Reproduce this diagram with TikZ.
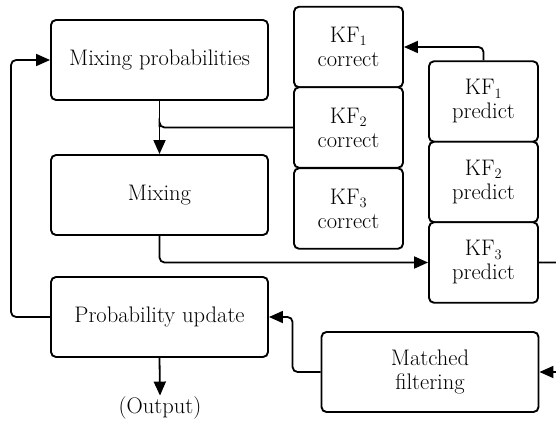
\documentclass[tikz,border=0pt]{standalone}
\usepackage{fontspec}
\usetikzlibrary{arrows.meta}
\begin{document}
\begin{tikzpicture}[x=1pt,y=-1pt,
  font=\fontsize{22.5}{24}\selectfont,
  block/.style={draw,line width=1.9pt,rounded corners=5pt,fill=white,
    inner sep=0pt,align=center,minimum width=#1,minimum height=80pt},
  block/.default=217pt,
  kfbox/.style={block=109pt,minimum height=80.5pt},
  flow/.style={line width=1.8pt,rounded corners=5pt,
    -{Triangle[length=14pt,width=12pt]}},
  wire/.style={line width=1.8pt,rounded corners=5pt}]
\useasboundingbox (0,0) rectangle (556,422);
\clip (0,0) rectangle (556,422);

% main chain
\node[block] (mp)  at (159.5,60)  {Mixing probabilities};
\node[block] (mix) at (159.5,195) {Mixing};
\node[block] (pu)  at (159.5,317) {Probability update};
\node[block] (mf)  at (430,372)   {Matched\\filtering};

% filter bank
\node[kfbox] (kf1c) at (348.5,47)    {KF$_1$\\correct};
\node[kfbox] (kf2c) at (348.5,127.5) {KF$_2$\\correct};
\node[kfbox] (kf3c) at (348.5,208.5) {KF$_3$\\correct};
\node[kfbox] (kf1p) at (483.5,101.5) {KF$_1$\\predict};
\node[kfbox] (kf2p) at (483.5,182)   {KF$_2$\\predict};
\node[kfbox] (kf3p) at (483.5,262.5) {KF$_3$\\predict};

\node[inner sep=1pt] (out) at (160,408) {(Output)};

% return path beyond the right border
\coordinate (r1) at (575,262.5);
\coordinate (r2) at (575,372);

% connectors
\draw[flow] (mp.south) -- (mix.north);
\draw[wire] (kf2c.west) -| ([yshift=27pt]mix.north);
\draw[flow] (mix.south) |- (kf3p.west);
\draw[flow] (kf1p.north) |- (kf1c.east);
\draw[flow] (kf3p.east) -- (r1) -- (r2) -- (mf.east);
\draw[flow] (mf.west) -- ++(-28,0) |- (pu.east);
\draw[flow] (pu.west) -- ++(-39,0) |- (mp.west);
\draw[flow] (pu.south) -- (out.north);
\end{tikzpicture}
\end{document}
